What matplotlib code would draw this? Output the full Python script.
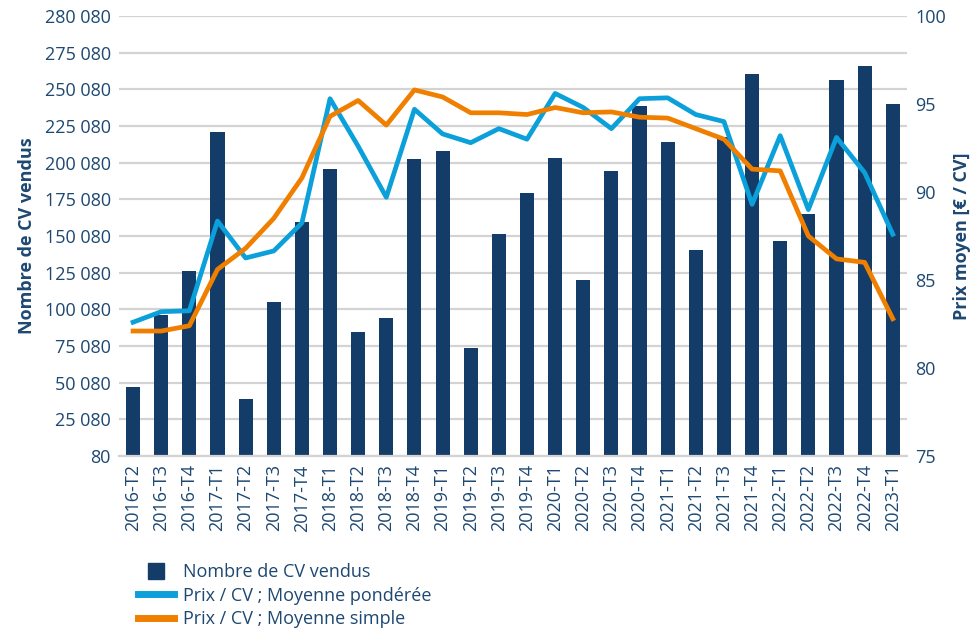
import numpy as np
import matplotlib
matplotlib.use('Agg')
import matplotlib.pyplot as plt
from matplotlib.lines import Line2D

quarters = ['2016-T2', '2016-T3', '2016-T4',
            '2017-T1', '2017-T2', '2017-T3', '2017-T4',
            '2018-T1', '2018-T2', '2018-T3', '2018-T4',
            '2019-T1', '2019-T2', '2019-T3', '2019-T4',
            '2020-T1', '2020-T2', '2020-T3', '2020-T4',
            '2021-T1', '2021-T2', '2021-T3', '2021-T4',
            '2022-T1', '2022-T2', '2022-T3', '2022-T4',
            '2023-T1']

nb_vendus = [47000, 96000, 126000,
             220700, 38800, 104900, 159400,
             195500, 84500, 94000, 202300,
             207800, 73600, 151200, 179200,
             203000, 119900, 194100, 238400,
             213900, 140300, 217300, 260200,
             146500, 164800, 256100, 265700,
             239800]

prix_pondere = [82.6, 83.2, 83.25,
                88.35, 86.25, 86.65, 88.24,
                95.3, 92.6, 89.7, 94.7,
                93.3, 92.8, 93.6, 93.0,
                95.6, 94.8, 93.6, 95.3,
                95.35, 94.4, 94.0, 89.3,
                93.2, 89.0, 93.1, 91.1,
                87.6]

prix_simple = [82.1, 82.1, 82.4,
               85.6, 86.8, 88.5, 90.8,
               94.3, 95.2, 93.8, 95.8,
               95.4, 94.5, 94.5, 94.4,
               94.8, 94.5, 94.55, 94.25,
               94.2, 93.6, 93.0, 91.3,
               91.2, 87.5, 86.2, 86.0,
               82.8]

left_ticks = [80 + 25000 * k for k in range(13)]
left_labels = ['80', '25 080', '50 080', '75 080', '100 080', '125 080',
               '150 080', '175 080', '200 080', '225 080', '250 080',
               '275 080', '280 080']

navy = '#143c69'
cyan = '#0ba0da'
orange = '#f07f00'
txt = '#1d4872'
grid = '#d3d3d3'

plt.rcParams['font.family'] = ['Open Sans', 'DejaVu Sans']

fig = plt.figure(figsize=(9.73, 6.32), dpi=100)
ax1 = fig.add_axes([0.1223, 0.2785, 0.8097, 0.6962])
ax2 = ax1.twinx()

x = np.arange(len(quarters))
ax1.bar(x, nb_vendus, width=0.5, color=navy, zorder=2)
ax1.set_ylim(80, 300080)
ax1.set_yticks(left_ticks)
ax1.set_yticklabels(left_labels)
ax1.set_xlim(-0.5, len(quarters) - 0.5)
ax1.set_xticks(x)
ax1.set_xticklabels(quarters, rotation=90)
ax1.yaxis.grid(True, color=grid, lw=1.6, zorder=0)
ax1.set_axisbelow(True)

ax2.plot(x, prix_pondere, color=cyan, lw=3.4, zorder=3)
ax2.plot(x, prix_simple, color=orange, lw=3.4, zorder=4)
ax2.set_ylim(75, 100)
ax2.set_yticks([75, 80, 85, 90, 95, 100])

for a in (ax1, ax2):
    for s in a.spines.values():
        s.set_visible(False)
    a.tick_params(length=0, colors=txt, labelsize=13)
ax1.spines['bottom'].set_visible(True)
ax1.spines['bottom'].set_color(grid)
ax1.spines['bottom'].set_linewidth(1.6)
ax1.tick_params(axis='x', pad=6, labelsize=13)
ax1.tick_params(axis='y', pad=6)
ax2.tick_params(axis='y', pad=6)

ax1.set_ylabel('Nombre de CV vendus', color=txt, fontsize=13,
               fontweight='bold', labelpad=6)
ax2.set_ylabel('Prix moyen [€ / CV]', color=txt, fontsize=13,
               fontweight='bold', labelpad=5)

handles = [Line2D([], [], color=navy, marker='s', markersize=11, ls='none'),
           Line2D([], [], color=cyan, lw=5),
           Line2D([], [], color=orange, lw=5)]
names = ['Nombre de CV vendus', 'Prix / CV ; Moyenne pondérée',
         'Prix / CV ; Moyenne simple']
leg = fig.legend(handles, names, loc='lower left',
                 bbox_to_anchor=(0.125, -0.02), frameon=False,
                 fontsize=13, handlelength=2.0, labelspacing=0.32,
                 handletextpad=0.5)
for t in leg.get_texts():
    t.set_color(txt)

plt.savefig('out.png', dpi=100)
